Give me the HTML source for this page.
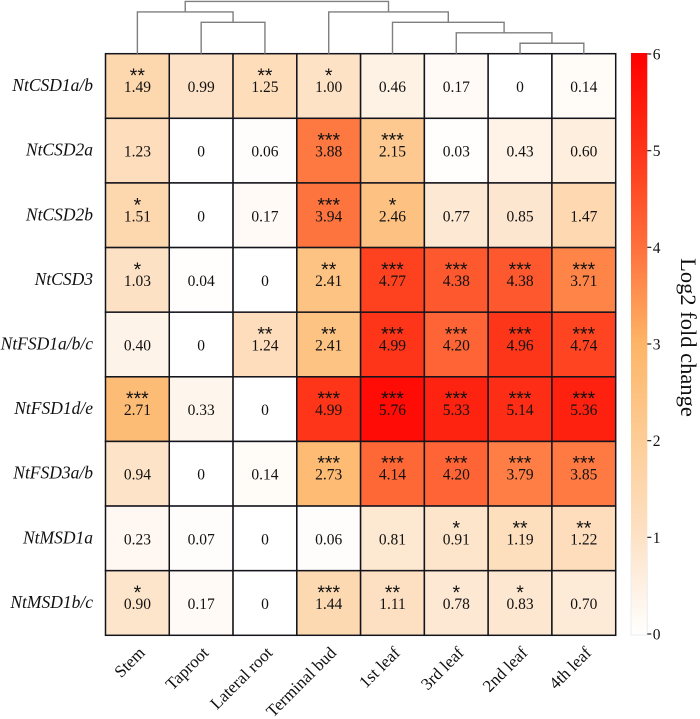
<!DOCTYPE html>
<html lang="en">
<head>
<meta charset="utf-8">
<title>Log2 fold change heatmap</title>
<style>
  html, body { margin: 0; padding: 0; background: #fff; }
  body { width: 700px; height: 719px; overflow: hidden; }
  svg { display: block; font-family: "Liberation Serif", serif; }
</style>
</head>
<body>
<svg id="chart" xmlns="http://www.w3.org/2000/svg" width="700" height="719" viewBox="0 0 700 719"></svg>
<script>
const genes = ["NtCSD1a/b", "NtCSD2a", "NtCSD2b", "NtCSD3", "NtFSD1a/b/c", "NtFSD1d/e", "NtFSD3a/b", "NtMSD1a", "NtMSD1b/c"];
const tissues = ["Stem", "Taproot", "Lateral root", "Terminal bud", "1st leaf", "3rd leaf", "2nd leaf", "4th leaf"];
const values = [
  [1.49, 0.99, 1.25, 1.00, 0.46, 0.17, 0, 0.14],
  [1.23, 0, 0.06, 3.88, 2.15, 0.03, 0.43, 0.60],
  [1.51, 0, 0.17, 3.94, 2.46, 0.77, 0.85, 1.47],
  [1.03, 0.04, 0, 2.41, 4.77, 4.38, 4.38, 3.71],
  [0.40, 0, 1.24, 2.41, 4.99, 4.20, 4.96, 4.74],
  [2.71, 0.33, 0, 4.99, 5.76, 5.33, 5.14, 5.36],
  [0.94, 0, 0.14, 2.73, 4.14, 4.20, 3.79, 3.85],
  [0.23, 0.07, 0, 0.06, 0.81, 0.91, 1.19, 1.22],
  [0.90, 0.17, 0, 1.44, 1.11, 0.78, 0.83, 0.70]
];
const valueLabels = [
  ["1.49", "0.99", "1.25", "1.00", "0.46", "0.17", "0", "0.14"],
  ["1.23", "0", "0.06", "3.88", "2.15", "0.03", "0.43", "0.60"],
  ["1.51", "0", "0.17", "3.94", "2.46", "0.77", "0.85", "1.47"],
  ["1.03", "0.04", "0", "2.41", "4.77", "4.38", "4.38", "3.71"],
  ["0.40", "0", "1.24", "2.41", "4.99", "4.20", "4.96", "4.74"],
  ["2.71", "0.33", "0", "4.99", "5.76", "5.33", "5.14", "5.36"],
  ["0.94", "0", "0.14", "2.73", "4.14", "4.20", "3.79", "3.85"],
  ["0.23", "0.07", "0", "0.06", "0.81", "0.91", "1.19", "1.22"],
  ["0.90", "0.17", "0", "1.44", "1.11", "0.78", "0.83", "0.70"]
];
const significance = [
  [2, 0, 2, 1, 0, 0, 0, 0],
  [0, 0, 0, 3, 3, 0, 0, 0],
  [1, 0, 0, 3, 1, 0, 0, 0],
  [1, 0, 0, 2, 3, 3, 3, 3],
  [0, 0, 2, 2, 3, 3, 3, 3],
  [3, 0, 0, 3, 3, 3, 3, 3],
  [0, 0, 0, 3, 3, 3, 3, 3],
  [0, 0, 0, 0, 0, 1, 2, 2],
  [1, 0, 0, 3, 2, 1, 1, 0]
];
const colorbarTicks = [0, 1, 2, 3, 4, 5, 6];
const colorScaleValues = [0, 1, 2, 3, 4, 5, 6];
const colorScaleColors = ["#ffffff", "#fde2c6", "#fdcd97", "#fdb567", "#fe703c", "#fe3418", "#ff0000"];
/* Dendrogram: each merge joins two children (leaf index, or "m" + merge index) at a linkage height */
const dendroMerges = [
  { a: 6, b: 7, height: 1 },
  { a: 5, b: "m0", height: 2 },
  { a: 4, b: "m1", height: 3 },
  { a: 3, b: "m2", height: 4 },
  { a: 1, b: 2, height: 3 },
  { a: 0, b: "m4", height: 4 },
  { a: "m5", b: "m3", height: 5 }
];

const svg = document.getElementById("chart");
const NS = "http://www.w3.org/2000/svg";
function add(parent, tag, attrs, text) {
  const el = document.createElementNS(NS, tag);
  for (const k in attrs) el.setAttribute(k, attrs[k]);
  if (text !== undefined) el.textContent = text;
  parent.appendChild(el);
  return el;
}

const gridLeft = 105.5, gridRight = 615.7, gridTop = 53.7, gridBottom = 635.3;
const cellW = (gridRight - gridLeft) / tissues.length;
const cellH = (gridBottom - gridTop) / genes.length;
const xCol = i => gridLeft + i * cellW;
const yRow = j => gridTop + j * cellH;

function hex(c) { return [1, 3, 5].map(i => parseInt(c.substr(i, 2), 16)); }
function colorFor(v) {
  const n = colorScaleValues.length;
  if (v <= colorScaleValues[0]) return colorScaleColors[0];
  if (v >= colorScaleValues[n - 1]) return colorScaleColors[n - 1];
  for (let i = 1; i < n; i++) {
    if (v <= colorScaleValues[i]) {
      const t = (v - colorScaleValues[i - 1]) / (colorScaleValues[i] - colorScaleValues[i - 1]);
      const a = hex(colorScaleColors[i - 1]), b = hex(colorScaleColors[i]);
      return "rgb(" + a.map((x, k) => Math.round(x + (b[k] - x) * t)).join(",") + ")";
    }
  }
}

/* Heatmap cells */
const cellsG = add(svg, "g", {});


values.forEach((row, j) => {
  row.forEach((v, i) => {
    const rect = add(cellsG, "rect", {
      x: xCol(i), y: yRow(j), width: cellW, height: cellH,
      fill: colorFor(v), stroke: "#14141c", "stroke-width": 1.5
    });
    
    
    const cx = xCol(i) + cellW / 2, cy = yRow(j) + cellH / 2;
    const label = add(cellsG, "text", {
      x: cx, y: cy + 6, "text-anchor": "middle", "font-size": 15.5, fill: "#111"
    }, valueLabels[j][i]);
    
    
    if (significance[j][i] > 0) {
      const stars = add(cellsG, "text", {
        x: cx, y: cy - 4, "text-anchor": "middle", "font-size": 19.5,
        "font-family": "'Liberation Sans', sans-serif", fill: "#111"
      }, "*".repeat(significance[j][i]));
      
      
    }
  });
});

/* Row labels */
genes.forEach((g, j) => {
  const t = add(svg, "text", {
    x: 93, y: yRow(j) + cellH / 2 + 5, "text-anchor": "end",
    "font-size": 17.5, "font-style": "italic", fill: "#111"
  }, g);
  
  
});

/* Column labels */
tissues.forEach((name, i) => {
  const px = xCol(i) + cellW / 2 + 8.5, py = gridBottom + 18.5;
  const t = add(svg, "text", {
    x: px, y: py, "text-anchor": "end", "font-size": 17, fill: "#111",
    transform: "rotate(-45 " + px + " " + py + ")"
  }, name);
  
  
});

/* Dendrogram */
const dendroG = add(svg, "g", { fill: "none", stroke: "#7f7f7f", "stroke-width": 1.4 });


const dendroBase = gridTop, dendroUnit = 10.45;
const yDendro = h => dendroBase - h * dendroUnit;
const mergePos = [];
function childPos(c) {
  if (typeof c === "number") return { x: xCol(c) + cellW / 2, h: 0 };
  return mergePos[parseInt(c.slice(1), 10)];
}
dendroMerges.forEach((m, idx) => {
  const a = childPos(m.a), b = childPos(m.b);
  const p = add(dendroG, "path", {
    d: "M" + a.x + " " + yDendro(a.h) + "V" + yDendro(m.height) + "H" + b.x + "V" + yDendro(b.h)
  });
  
  
  mergePos[idx] = { x: (a.x + b.x) / 2, h: m.height };
});

/* Colorbar */
const cbLeft = 631, cbRight = 647.3, cbTop = 53, cbBottom = 635;
const tickTop = 54, tickBottom = 634;
const cbMax = colorbarTicks[colorbarTicks.length - 1];
const yCb = v => tickBottom - (v / cbMax) * (tickBottom - tickTop);
const defs = add(svg, "defs", {});
const grad = add(defs, "linearGradient", { id: "cbGradient", x1: 0, y1: 1, x2: 0, y2: 0 });
colorScaleValues.forEach((v, i) => {
  add(grad, "stop", { offset: (v / cbMax), "stop-color": colorScaleColors[i] });
});
const cbBar = add(svg, "rect", {
  x: cbLeft, y: cbTop, width: cbRight - cbLeft, height: cbBottom - cbTop, fill: "url(#cbGradient)"
});


const cbOutline = add(svg, "path", {
  d: "M" + cbLeft + " " + (cbTop + 485) + "V" + cbBottom + "H" + cbRight + "V" + (cbTop + 485),
  fill: "none", stroke: "#ececec", "stroke-width": 1
});


colorbarTicks.forEach(v => {
  const tick = add(svg, "line", {
    x1: cbRight, x2: cbRight + 4, y1: yCb(v), y2: yCb(v), stroke: "#222", "stroke-width": 1.2
  });
  
  
  const lab = add(svg, "text", {
    x: cbRight + 5.5, y: yCb(v) + 5.5, "font-size": 15.5, fill: "#111"
  }, String(v));
  
  
});
const cbTitle = add(svg, "text", {
  x: 681, y: 337.5, "text-anchor": "middle", "font-size": 22.5, fill: "#111",
  transform: "rotate(90 681 337.5)"
}, "Log2 fold change");


</script>
</body>
</html>
